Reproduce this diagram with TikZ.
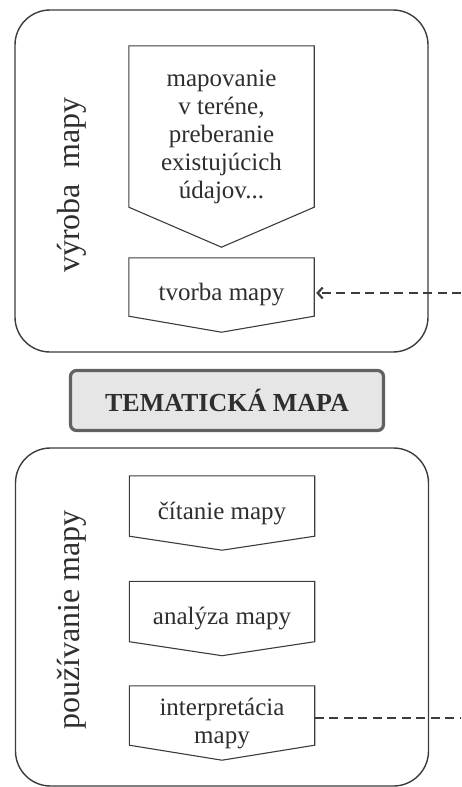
\documentclass[tikz,border=0pt]{standalone}
\usepackage{fontspec}
\setmainfont{Liberation Serif}
\usetikzlibrary{positioning,arrows.meta}

\definecolor{linegray}{HTML}{3C3C3C}
\definecolor{textgray}{HTML}{2E2E2E}
\definecolor{titlefill}{HTML}{E6E6E6}

\tikzset{
  phase/.style={draw=linegray, line width=1.4pt, rounded corners=35pt, minimum width=413pt},
  phaselabel/.style={rotate=90, text=textgray, font=\fontsize{32}{36}\selectfont},
  stepbox/.style={minimum width=185pt, minimum height=74pt, inner sep=0pt, align=center,
    text=textgray, font=\fontsize{25}{28}\selectfont},
  outline/.style={draw=linegray, line width=1.1pt, line join=miter},
  link/.style={draw=linegray, line width=2.2pt, dash pattern=on 9pt off 5.5pt}
}

\begin{document}
\begin{tikzpicture}[x=1pt, y=-1pt]
    \useasboundingbox (0,0) rectangle (461,787);

    % Vyroba mapy
    \node [phase, minimum height=342pt] (vyroba) at (221.5,181) {};
    \node [phaselabel] (vyrobalabel) at (72,185) {výroba \ mapy};
    \node [stepbox, minimum height=201pt] (mapovanie) at (221.5,146.5)
        {mapovanie\\v teréne,\\preberanie\\existujúcich\\údajov...\rule[-25pt]{0pt}{0pt}};
    \node [stepbox] (tvorba) at (221.5,295) {tvorba mapy};

    % Tematicka mapa
    \node [draw=black!62, line width=3.2pt, fill=titlefill, rounded corners=6pt,
           minimum width=313pt, minimum height=60pt, text=textgray,
           font=\bfseries\fontsize{26}{30}\selectfont] (tema) at (227,400.5) {TEMATICKÁ MAPA};

    % Pouzivanie mapy
    \node [phase, minimum height=338pt] (pouzivanie) at (222,617) {};
    \node [phaselabel] (pouzivanielabel) at (72,620) {používanie mapy};
    \node [stepbox] (citanie) at (222,513) {čítanie mapy};
    \node [stepbox] (analyza) at (222,618.5) {analýza mapy};
    \node [stepbox] (interpretacia) at (222,723) {interpretácia\\mapy};

    % Obrysy krokov
    \foreach \n/\d in {mapovanie/40, tvorba/16, citanie/14, analyza/14, interpretacia/15}
        \draw [outline] (\n.north west) -- (\n.north east) -- ([yshift=\d]\n.south east)
            -- (\n.south) -- ([yshift=\d]\n.south west) -- cycle;

    % Spatna vazba
    \coordinate (fromright) at (461,293);
    \coordinate (toright) at (461,718);
    \draw [link, -{Straight Barb[length=5pt, width=11pt]}, shorten >=2pt] (fromright) -- (fromright -| tvorba.east);
    \draw [link] (toright -| interpretacia.east) -- (toright);

\end{tikzpicture}
\end{document}
